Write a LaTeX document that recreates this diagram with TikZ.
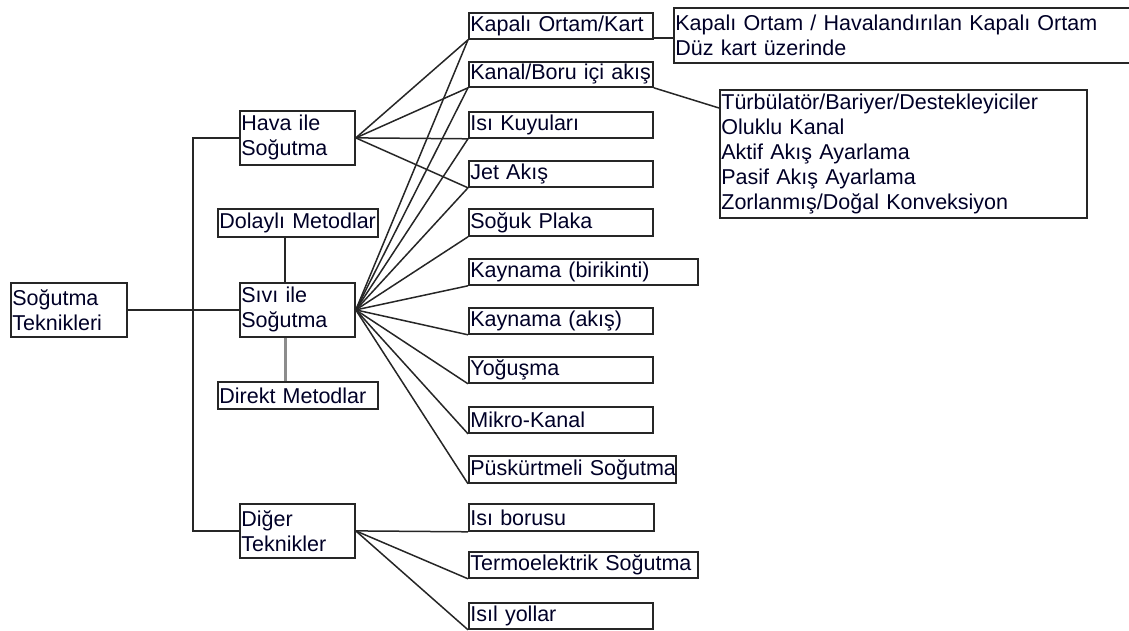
\documentclass[tikz,border=0pt]{standalone}
\usepackage{fontspec}
\setmainfont{Liberation Sans}
\usetikzlibrary{calc}
\tikzset{
  bx/.style 2 args={draw=black!85, line width=1.8bp, anchor=north west, inner xsep=1.5bp, inner ysep=0pt,
    align=left, text width=#1, minimum height=#2, text=black!85!blue,
    font={\fontsize{21.5bp}{25bp}\selectfont}},
  conn/.style={draw=black!85, line width=1.5bp},
  grayconn/.style={draw=black!45, line width=3bp}
}
\begin{document}
\begin{tikzpicture}[x=1bp,y=-1bp]
\useasboundingbox (0,0) rectangle (1129,631);
\begin{scope}
\clip (0,0) rectangle (1129,631);
% left side
\node[bx={113bp}{54bp}] (st) at (10,282) {Soğutma\\Teknikleri};
\node[bx={112bp}{54bp}] (hava) at (239,110) {Hava ile\\Soğutma};
\node[bx={157bp}{28bp}] (dol) at (217,208) {\mbox{Dolaylı Metodlar}};
\node[bx={112bp}{54bp}] (siv) at (239,282) {Sıvı ile\\Soğutma};
\node[bx={157bp}{27bp}] (dir) at (217,381) {\mbox{Direkt Metodlar}};
\node[bx={112bp}{54bp}] (dig) at (239,503) {Diğer\\Teknikler};
% right column
\node[bx={181bp}{26bp}] (k1) at (468,12) {\mbox{Kapalı Ortam/Kart}};
\node[bx={181bp}{25bp}] (k2) at (468,61) {\mbox{Kanal/Boru içi akış}};
\node[bx={181bp}{26bp}] (k3) at (468,111) {Isı Kuyuları};
\node[bx={181bp}{26bp}] (k4) at (468,160) {Jet Akış};
\node[bx={181bp}{27bp}] (k5) at (468,208) {Soğuk Plaka};
\node[bx={226bp}{26bp}] (k6) at (468,258) {\mbox{Kaynama (birikinti)}};
\node[bx={181bp}{26bp}] (k7) at (468,307) {Kaynama (akış)};
\node[bx={181bp}{26bp}] (k8) at (468,356) {Yoğuşma};
\node[bx={181bp}{26bp}] (k9) at (468,406) {Mikro-Kanal};
\node[bx={204bp}{27bp}] (k10) at (468,455) {\mbox{Püskürtmeli Soğutma}};
\node[bx={182bp}{27bp}] (k11) at (468,503) {Isı borusu};
\node[bx={226bp}{26bp}] (k12) at (468,551) {\mbox{Termoelektrik Soğutma}};
\node[bx={181bp}{26bp}] (k13) at (468,602) {Isıl yollar};
% far right
\node[bx={455bp}{55bp}] (big1) at (673,7) {Kapalı Ortam / Havalandırılan Kapalı Ortam\\Düz kart üzerinde};
\node[bx={364bp}{128bp}] (big2) at (719,89) {Türbülatör/Bariyer/Destekleyiciler\\Oluklu Kanal\\Aktif Akış Ayarlama\\Pasif Akış Ayarlama\\Zorlanmış/Doğal Konveksiyon};
% trunk
\coordinate (trunk) at (193,309);
\draw[conn] (hava.west) -| (trunk) |- (dig.west);
\draw[conn] (st.east) -- (siv.west);
% dolayli / direkt
\coordinate (d1) at ($(dol.south west)+(68,0)$);
\coordinate (d2) at ($(dir.north west)+(68,0)$);
\draw[conn] (d1) -- (d1 |- siv.north);
\draw[grayconn] (d2 |- siv.south) -- (d2);
% fans
\foreach \t in {k1,k2,k3,k4} \draw[conn] (hava.east) -- (\t.south west);
\foreach \t in {k1,k2,k3,k4,k5,k6,k7,k8,k9,k10} \draw[conn] (siv.east) -- (\t.south west);
\foreach \t in {k11,k12,k13} \draw[conn] (dig.east) -- (\t.south west);
% details
\coordinate (c1) at ($(k1.south east)+(0,-2)$);
\draw[conn] (c1) -- (c1 -| big1.west);
\coordinate (c2) at ($(big2.north west)+(0,19)$);
\draw[conn] (k2.south east) -- (c2);
\end{scope}
\end{tikzpicture}
\end{document}
